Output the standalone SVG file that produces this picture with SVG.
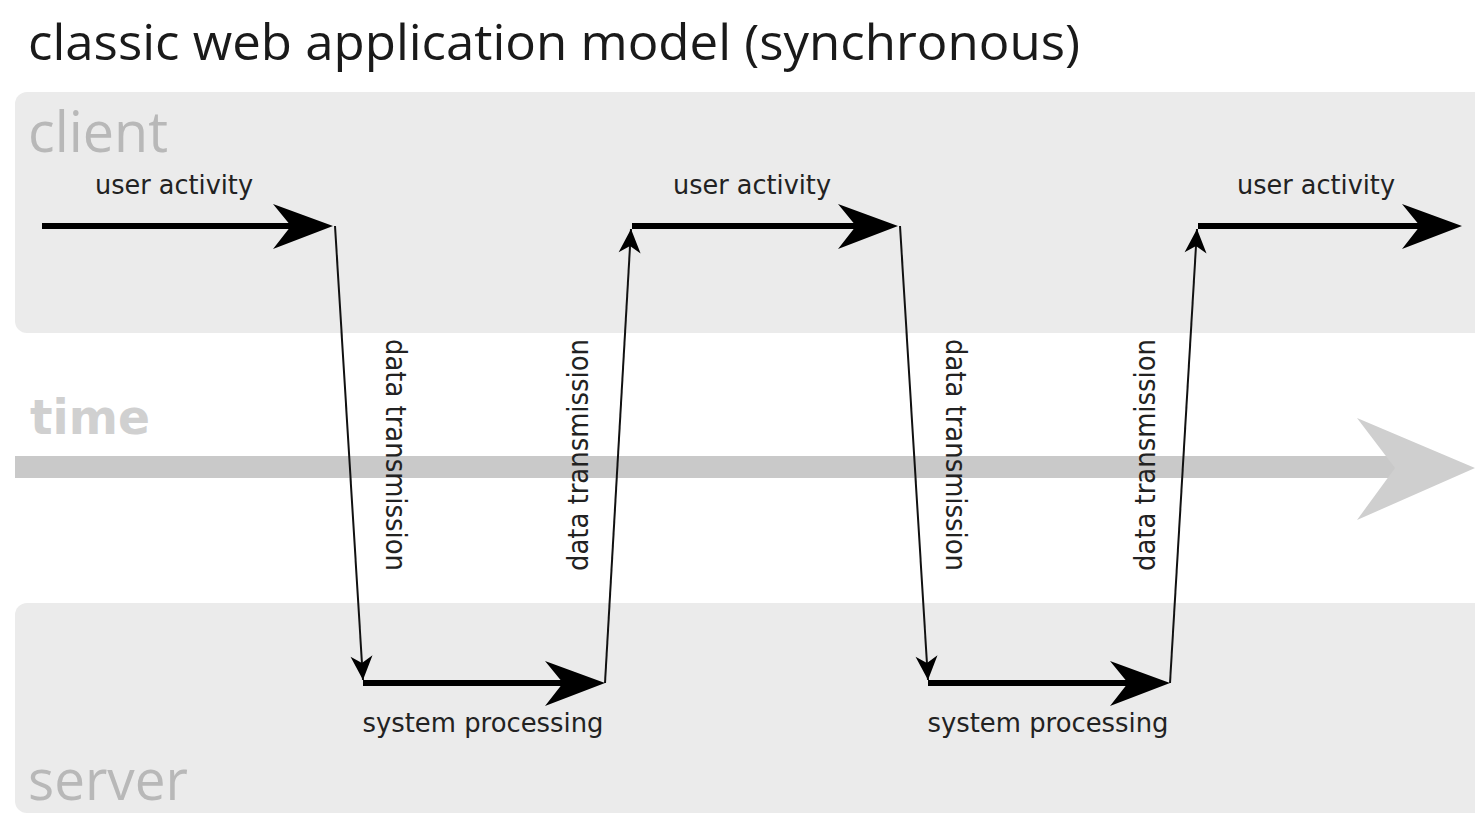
<svg xmlns="http://www.w3.org/2000/svg" width="1475" height="816" viewBox="0 0 1475 816">
  <style>
    .band { fill: #ebebeb; }
    .title { font-family: "Open Sans", "DejaVu Sans", sans-serif; font-size: 50px; fill: #1a1a1a; }
    .lane { font-family: "Open Sans", "DejaVu Sans", sans-serif; font-size: 56px; fill: #b8b8b8; }
    .timelbl { font-family: "DejaVu Sans", sans-serif; font-weight: bold; font-size: 48px; fill: #d0d0d0; }
    .lbl { font-family: "DejaVu Sans", sans-serif; font-size: 26px; fill: #222; }
    .vlbl { font-family: "DejaVu Sans", sans-serif; font-size: 28px; fill: #222; }
    .thick { stroke: #000; stroke-width: 6; fill: none; }
    .thin { stroke: #111; stroke-width: 2; fill: none; }
  </style>
  <defs>
    <marker id="bigHead" markerUnits="userSpaceOnUse" markerWidth="70" markerHeight="60" viewBox="-20 -25 70 50" refX="0" refY="0" orient="auto">
      <path d="M42,0 L-18,-22 L0,0 L-18,23 Z" fill="#000"/>
    </marker>
    <marker id="smallHead" markerUnits="userSpaceOnUse" markerWidth="30" markerHeight="30" viewBox="-26 -13 30 26" refX="0" refY="0" orient="auto">
      <path d="M0,0 L-24,-11 L-17,0 L-24,11 Z" fill="#000"/>
    </marker>
  </defs>

  <rect width="1475" height="816" fill="#ffffff"/>

  <text class="title" x="28" y="60" textLength="1052" lengthAdjust="spacingAndGlyphs">classic web application model (synchronous)</text>

  <g id="client">
    <rect class="band" x="15" y="92" width="1480" height="241" rx="12"/>
    <text class="lane" x="28" y="152" textLength="140" lengthAdjust="spacingAndGlyphs">client</text>
  </g>

  <g id="server">
    <rect class="band" x="15" y="603" width="1480" height="210" rx="12"/>
    <text class="lane" x="28" y="800" textLength="160" lengthAdjust="spacingAndGlyphs">server</text>
  </g>

  <g id="time">
    <text class="timelbl" x="30" y="434" textLength="120" lengthAdjust="spacingAndGlyphs">time</text>
    <rect x="15" y="456" width="1382" height="22" fill="#c9c9c9"/>
    <polygon points="1357,418 1475,468 1357,520 1395,468" fill="#cfcfcf"/>
  </g>

  <g id="connectors">
    <line class="thick" x1="42" y1="226" x2="291" y2="226" marker-end="url(#bigHead)"/>
    <line class="thick" x1="632" y1="226" x2="856" y2="226" marker-end="url(#bigHead)"/>
    <line class="thick" x1="1198" y1="226" x2="1420" y2="226" marker-end="url(#bigHead)"/>
    <line class="thick" x1="363" y1="683" x2="563" y2="683" marker-end="url(#bigHead)"/>
    <line class="thick" x1="928" y1="683" x2="1128" y2="683" marker-end="url(#bigHead)"/>
    <line class="thin" x1="335" y1="226" x2="363" y2="680" marker-end="url(#smallHead)"/>
    <line class="thin" x1="605" y1="683" x2="631" y2="229" marker-end="url(#smallHead)"/>
    <line class="thin" x1="900" y1="226" x2="928" y2="680" marker-end="url(#smallHead)"/>
    <line class="thin" x1="1170" y1="683" x2="1197" y2="229" marker-end="url(#smallHead)"/>
  </g>

  <g id="labels">
    <text class="lbl" x="174" y="194" text-anchor="middle" textLength="158" lengthAdjust="spacingAndGlyphs">user activity</text>
    <text class="lbl" x="752" y="194" text-anchor="middle" textLength="158" lengthAdjust="spacingAndGlyphs">user activity</text>
    <text class="lbl" x="1316" y="194" text-anchor="middle" textLength="158" lengthAdjust="spacingAndGlyphs">user activity</text>
    <text class="lbl" x="483" y="732" text-anchor="middle" textLength="241" lengthAdjust="spacingAndGlyphs">system processing</text>
    <text class="lbl" x="1048" y="732" text-anchor="middle" textLength="241" lengthAdjust="spacingAndGlyphs">system processing</text>
    <text class="vlbl" transform="translate(386,455) rotate(90)" text-anchor="middle" textLength="232" lengthAdjust="spacingAndGlyphs">data transmission</text>
    <text class="vlbl" transform="translate(588,455) rotate(-90)" text-anchor="middle" textLength="232" lengthAdjust="spacingAndGlyphs">data transmission</text>
    <text class="vlbl" transform="translate(946,455) rotate(90)" text-anchor="middle" textLength="232" lengthAdjust="spacingAndGlyphs">data transmission</text>
    <text class="vlbl" transform="translate(1155,455) rotate(-90)" text-anchor="middle" textLength="232" lengthAdjust="spacingAndGlyphs">data transmission</text>
  </g>
</svg>
